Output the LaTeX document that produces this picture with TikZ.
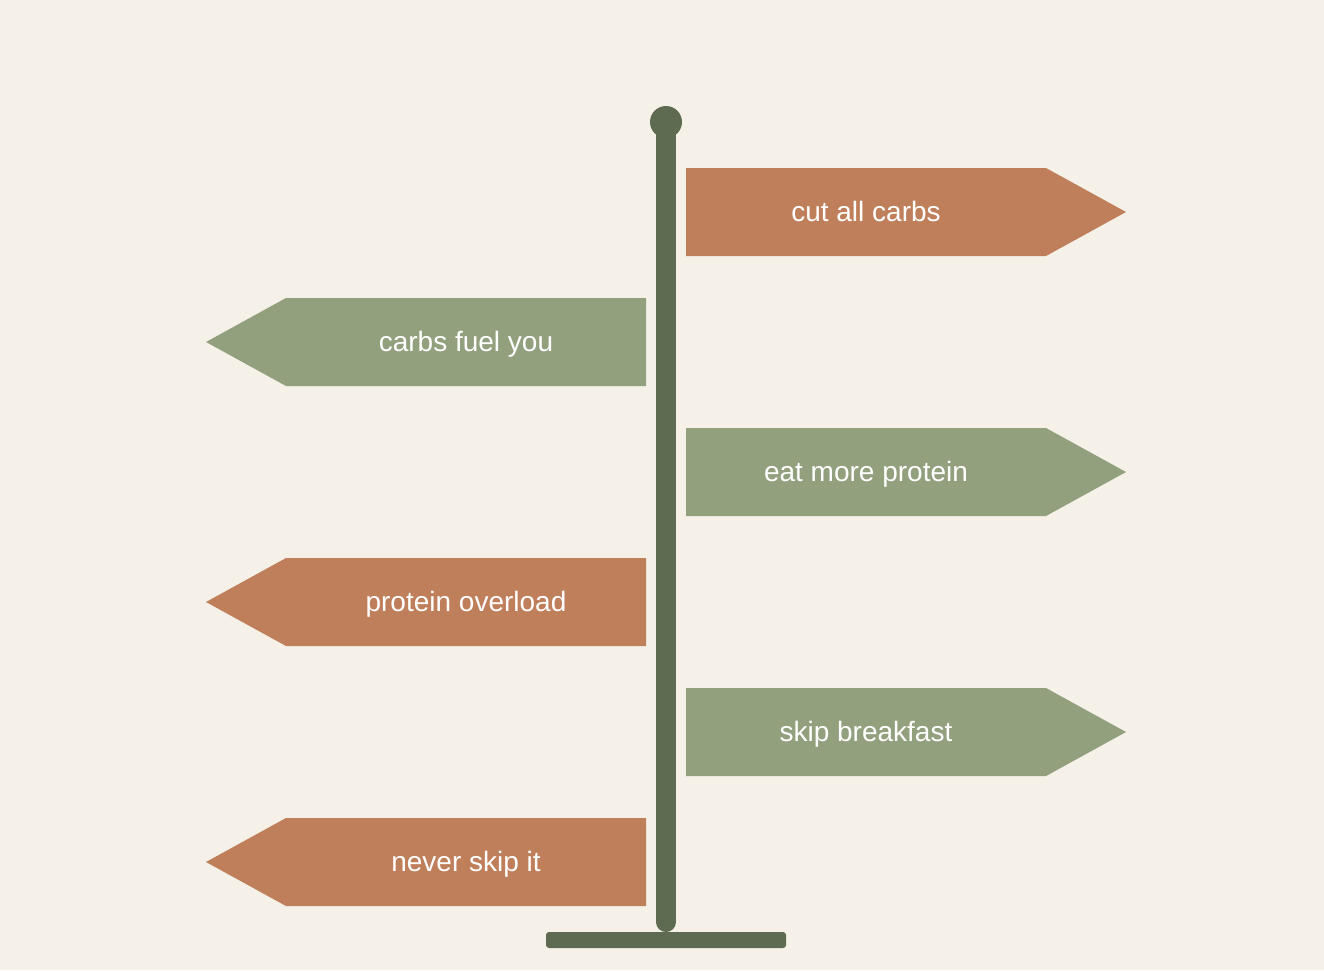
\documentclass[tikz,border=0pt]{standalone}
\usepackage{fontspec}
\setmainfont{Liberation Sans}
\definecolor{bgc}{HTML}{F5F1E9}
\definecolor{polec}{HTML}{5E6B50}
\definecolor{terra}{HTML}{C07F5B}
\definecolor{sage}{HTML}{93A07E}
\tikzset{
  signtext/.style={text=white, font=\fontsize{28}{32}\selectfont, anchor=base, inner sep=0pt},
}
\begin{document}
\begin{tikzpicture}[x=1pt,y=-1pt]
\fill[bgc] (0,0) rectangle (1324,970);
\useasboundingbox (0,0) rectangle (1324,970);
% pole
\draw[polec, line width=20pt, line cap=round] (666,130) -- (666,922);
\fill[polec] (666,122) circle (16);
\fill[polec, rounded corners=3pt] (546,932) rectangle (786,948);
% signs
\newcommand{\rsign}[2]{%
  \fill[#1] (686,#2-44) -- (1046,#2-44) -- (1126,#2) -- (1046,#2+44) -- (686,#2+44) -- cycle;
}
\newcommand{\lsign}[2]{%
  \fill[#1] (646,#2-44) -- (286,#2-44) -- (206,#2) -- (286,#2+44) -- (646,#2+44) -- cycle;
}
\rsign{terra}{212}
\lsign{sage}{342}
\rsign{sage}{472}
\lsign{terra}{602}
\rsign{sage}{732}
\lsign{terra}{862}
\node[signtext] (s1) at (866,221) {cut all carbs};
\node[signtext] (s2) at (466,351) {carbs fuel you};
\node[signtext] (s3) at (866,481) {eat more protein};
\node[signtext] (s4) at (466,611) {protein overload};
\node[signtext] (s5) at (866,741) {skip breakfast};
\node[signtext] (s6) at (466,871) {never skip it};
\end{tikzpicture}
\end{document}
